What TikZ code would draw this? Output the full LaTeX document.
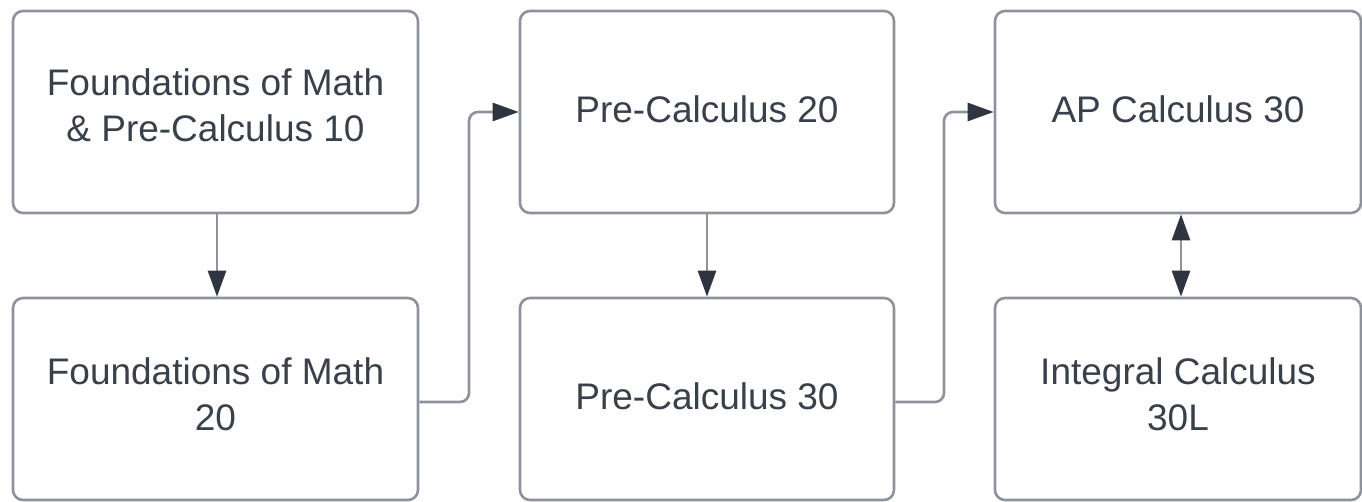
\documentclass[tikz,border=0pt]{standalone}
\usepackage{fontspec}
\setmainfont{Liberation Sans}
\usetikzlibrary{arrows.meta}
\definecolor{boxline}{HTML}{8E939B}
\definecolor{txt}{HTML}{3A4049}
\definecolor{tip}{HTML}{2E3440}
\tikzset{
  course/.style={draw=boxline, line width=2.6pt, rounded corners=10pt, inner sep=0pt},
  wide/.style={course, minimum width=405pt, minimum height=202pt},
  mid/.style={course, minimum width=374pt, minimum height=202pt},
  right/.style={course, minimum width=366pt, minimum height=202pt},
  lbl/.style={align=center, text=txt, font=\fontsize{37}{46}\selectfont, inner sep=0pt},
  hd/.style={Triangle[length=26pt,width=18pt,fill=tip,color=tip]},
  link/.style={draw=boxline, line width=2.6pt, rounded corners=9pt, -{Triangle[length=26pt,width=18pt,fill=tip,color=tip]}},
  dlink/.style={draw=boxline, line width=2.6pt,
    {Triangle[length=26pt,width=18pt,fill=tip,color=tip]}-{Triangle[length=26pt,width=18pt,fill=tip,color=tip]}}
}
\begin{document}
\begin{tikzpicture}[x=1pt,y=-1pt]
\useasboundingbox (0,0) rectangle (1362,502);
\node[wide] (A) at (215.5,112) {};
\node[wide] (B) at (215.5,399) {};
\node[mid] (C) at (707,112) {};
\node[mid] (D) at (707,399) {};
\node[right] (E) at (1178,112) {};
\node[right] (F) at (1178,399) {};
\node[lbl] (At) at ([yshift=7pt]A.center) {Foundations of Math\\\& Pre-Calculus 10};
\node[lbl] (Bt) at ([yshift=5pt]B.center) {Foundations of Math\\20};
\node[lbl] (Ct) at ([yshift=2.5pt]C.center) {Pre-Calculus 20};
\node[lbl] (Dt) at ([yshift=2.5pt]D.center) {Pre-Calculus 30};
\node[lbl] (Et) at ([yshift=2.5pt]E.center) {AP Calculus 30};
\node[lbl] (Ft) at ([yshift=5pt]F.center) {Integral Calculus\\30L};
\draw[link] ([xshift=1.5pt]A.south) -- ([xshift=1.5pt]B.north);
\draw[link] (C.south) -- (D.north);
\draw[dlink] ([xshift=3pt]E.south) -- ([xshift=3pt]F.north);
\draw[link] ([yshift=-3pt]B.east) -| (469,250) |- (C.west);
\draw[link] ([yshift=-3pt]D.east) -| (944,250) |- (E.west);
\end{tikzpicture}
\end{document}
